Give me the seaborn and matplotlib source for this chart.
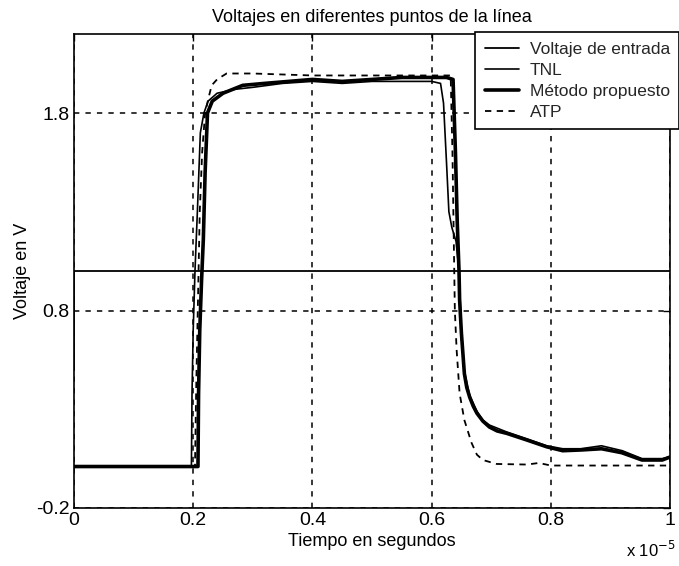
import matplotlib
matplotlib.use("Agg")
import matplotlib.pyplot as plt
from matplotlib import font_manager
from matplotlib.lines import Line2D
import seaborn as sns
import pandas as pd

# ---- data (time in units of 1e-5 s, voltage in V) ----
t_entrada = [0.0, 0.0, 1.0]
v_entrada = [0.5, 1.0, 1.0]

t_tnl = [0.0, 0.197, 0.198, 0.200, 0.203, 0.207, 0.212, 0.218, 0.225, 0.24, 0.27,
         0.30, 0.35, 0.40, 0.45, 0.50, 0.55, 0.60, 0.615, 0.620, 0.625, 0.629,
         0.634, 0.641, 0.646, 0.650, 0.655, 0.664, 0.676, 0.686, 0.697, 0.726,
         0.76, 0.793, 0.82, 0.85, 0.885, 0.92, 0.953, 0.987, 1.0]
v_tnl = [0.01, 0.01, 0.38, 0.70, 1.00, 1.30, 1.70, 1.80, 1.86, 1.90, 1.92,
         1.93, 1.95, 1.96, 1.95, 1.96, 1.96, 1.96, 1.95, 1.85, 1.55, 1.30,
         1.22, 1.15, 1.00, 0.70, 0.49, 0.37, 0.29, 0.245, 0.22, 0.185,
         0.15, 0.115, 0.10, 0.10, 0.115, 0.09, 0.05, 0.05, 0.06]

t_prop = [0.0, 0.208, 0.209, 0.211, 0.214, 0.217, 0.220, 0.224, 0.232, 0.25, 0.283,
          0.32, 0.36, 0.40, 0.45, 0.50, 0.55, 0.60, 0.625, 0.636, 0.640, 0.643,
          0.646, 0.647, 0.650, 0.655, 0.659, 0.664, 0.670, 0.676, 0.686, 0.697,
          0.710, 0.726, 0.76, 0.793, 0.82, 0.852, 0.885, 0.919, 0.953, 0.987, 1.0]
v_prop = [0.01, 0.01, 0.38, 0.70, 0.95, 1.16, 1.50, 1.80, 1.86, 1.90, 1.94,
          1.95, 1.96, 1.97, 1.96, 1.97, 1.98, 1.98, 1.98, 1.97, 1.60, 1.25,
          1.00, 0.853, 0.686, 0.48, 0.41, 0.36, 0.315, 0.28, 0.24, 0.21,
          0.19, 0.178, 0.144, 0.11, 0.09, 0.094, 0.10, 0.08, 0.043, 0.043, 0.058]

t_atp = [0.0, 0.203, 0.205, 0.208, 0.211, 0.215, 0.220, 0.226, 0.231, 0.240, 0.256,
         0.30, 0.40, 0.50, 0.60, 0.632, 0.635, 0.637, 0.639, 0.642, 0.647, 0.655,
         0.667, 0.676, 0.686, 0.709, 0.76, 0.78, 0.80, 0.90, 1.0]
v_atp = [0.01, 0.01, 0.40, 0.85, 1.30, 1.60, 1.80, 1.88, 1.94, 1.97, 2.00,
         2.00, 1.99, 1.99, 1.99, 1.99, 1.60, 1.20, 0.80, 0.60, 0.38, 0.245,
         0.13, 0.07, 0.043, 0.023, 0.02, 0.028, 0.015, 0.015, 0.015]

series_names = ["Voltaje de entrada", "TNL", "Método propuesto", "ATP"]
x_ticks = [0, 0.2, 0.4, 0.6, 0.8, 1.0]
x_ticklabels = ["0", "0.2", "0.4", "0.6", "0.8", "1"]
y_ticks = [-0.2, 0.8, 1.8]
y_ticklabels = ["-0.2", "0.8", "1.8"]

# ---- style ----
sns.set_theme(style="white")
installed = {f.name for f in font_manager.fontManager.ttflist}
fam = [f for f in ["Liberation Sans Narrow", "Liberation Sans", "DejaVu Sans"] if f in installed]
plt.rcParams["font.family"] = fam

fig = plt.figure(figsize=(6.79, 5.66), dpi=100)
W, H = 679, 566
ax = fig.add_axes([74 / W, 1 - 508 / H, (670 - 74) / W, (508 - 34) / H])

styles = {
    "Voltaje de entrada": dict(lw=1.3, ls="-"),
    "TNL": dict(lw=1.2, ls="-"),
    "Método propuesto": dict(lw=2.6, ls="-"),
    "ATP": dict(lw=1.3, ls=(0, (3.5, 3))),
}
data = {
    "Voltaje de entrada": (t_entrada, v_entrada),
    "TNL": (t_tnl, v_tnl),
    "Método propuesto": (t_prop, v_prop),
    "ATP": (t_atp, v_atp),
}
for name in series_names:
    t, v = data[name]
    df = pd.DataFrame({"t": t, "v": v})
    sns.lineplot(data=df, x="t", y="v", ax=ax, estimator=None, sort=False,
                 color="black", linewidth=styles[name]["lw"],
                 linestyle=styles[name]["ls"], legend=False)

ax.set_xlim(0, 1)
ax.set_ylim(-0.2, 2.2)
ax.set_xticks(x_ticks)
ax.set_xticklabels(x_ticklabels)
ax.set_yticks(y_ticks)
ax.set_yticklabels(y_ticklabels)
ax.tick_params(direction="in", length=5, width=1, top=True, right=True,
               labelsize=14, colors="black", pad=3)
for s in ax.spines.values():
    s.set_color("black")
    s.set_linewidth(1.2)
ax.grid(True, color="black", linestyle=(0, (3.5, 4)), linewidth=1.1)

ax.set_xlabel("Tiempo en segundos", fontsize=13, color="black", labelpad=3)
ax.set_ylabel("Voltaje en V", fontsize=13, color="black", labelpad=4)
ax.set_title("Voltajes en diferentes puntos de la línea", fontsize=13,
             color="black", pad=9)
fig.text(626 / W, 1 - 550 / H, r"x 10$^{-5}$", fontsize=12, color="black",
         ha="left", va="center")

handles = [Line2D([0], [0], color="black", lw=styles[n]["lw"], ls=styles[n]["ls"])
           for n in series_names]
leg = fig.legend(handles, series_names, loc="upper left",
                 bbox_to_anchor=(475 / W, 1 - 32 / H), fontsize=12.5,
                 frameon=True, fancybox=False, framealpha=1, edgecolor="black",
                 handlelength=2.0, handletextpad=0.6, borderpad=0.55,
                 labelspacing=0.34, borderaxespad=0)
leg.get_frame().set_linewidth(1.2)

fig.savefig("out.png", dpi=100)
